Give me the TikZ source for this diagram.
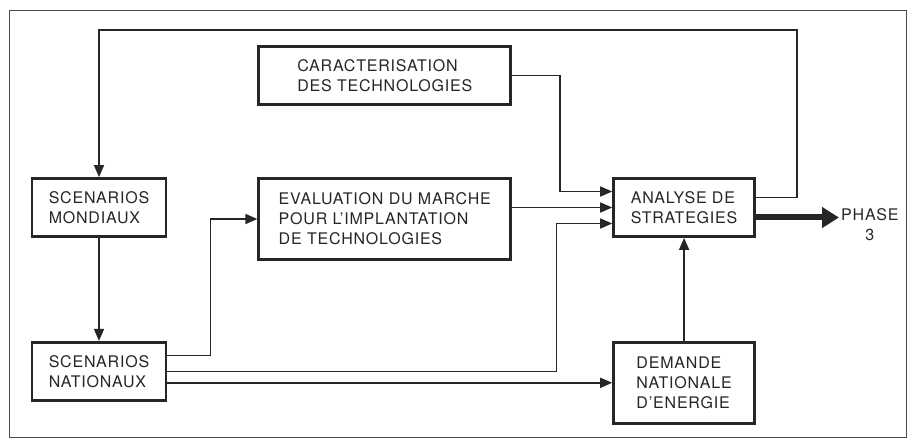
\documentclass[tikz,border=0pt]{standalone}
\usepackage{fontspec}
\setmainfont{TeX Gyre Heros}[LetterSpace=5]
\usepackage{xcolor}
\usepackage{tikz}
\usetikzlibrary{positioning,arrows.meta,calc}
\definecolor{PlanInk}{HTML}{262626}
\definecolor{PlanFrame}{HTML}{4A4A4A}

\begin{document}
\begin{tikzpicture}[
  x=1pt,y=-1pt,
  every node/.style={font=\fontsize{16}{20}\selectfont,align=left,text=PlanInk},
  box/.style={draw=PlanInk,line width=2.8pt,fill=white,minimum height=58pt,inner sep=4pt},
  tallbox/.style={box,minimum height=81pt},
  arr/.style={-{Triangle[length=12pt,width=10pt]},line width=1.6pt,draw=PlanInk},
  bigarr/.style={-{Triangle[length=17pt,width=20pt]},line width=6pt,draw=PlanInk}
]
  \useasboundingbox (0,0) rectangle (912,446);
  \draw[PlanFrame,line width=1pt] (9,11) rectangle (906,437);

  \node[box,minimum width=134pt] (mondiaux) at (99,207.5) {SCENARIOS\\MONDIAUX};
  \node[box,minimum width=134pt,below=103pt of mondiaux] (nationaux) {SCENARIOS\\NATIONAUX};
  \node[tallbox,minimum width=252pt,right=90pt of mondiaux.north east,anchor=north west] (marche) {EVALUATION DU MARCHE\\POUR L'IMPLANTATION\\DE TECHNOLOGIES};
  \node[box,minimum width=252pt,above=71pt of marche] (caract) {CARACTERISATION\\DES TECHNOLOGIES};
  \node[box,minimum width=141pt,right=100pt of marche.north east,anchor=north west] (analyse) {ANALYSE DE\\STRATEGIES};
  \node[tallbox,minimum width=141pt,below=103pt of analyse] (demande) {DEMANDE\\NATIONALE\\D'ENERGIE};
  \node[align=center,inner sep=2pt,right=83pt of analyse,yshift=-17pt] (phase) {PHASE\\3};

  \draw[arr] ([yshift=10pt]analyse.east) -- ++(41pt,0) |- ([yshift=147pt]mondiaux.north) -- (mondiaux.north);
  \draw[arr] (mondiaux) -- (nationaux);
  \draw[arr] (caract.east) -- ++(48pt,0) |- ([yshift=16pt]analyse.west);
  \draw[arr] (marche.east |- analyse.west) -- (analyse.west);
  \draw[arr] ([yshift=16pt]nationaux.east) -- ++(43pt,0) |- (marche.west);
  \draw[arr] (nationaux.east) -- ++(389pt,0) |- ([yshift=-16pt]analyse.west);
  \draw[arr] (nationaux.east |- demande.west) -- (demande.west);
  \draw[arr] (demande) -- (analyse);
  \draw[bigarr] ([yshift=-10pt]analyse.east) -- ([yshift=-10pt]analyse.east -| phase.west);
\end{tikzpicture}
\end{document}
